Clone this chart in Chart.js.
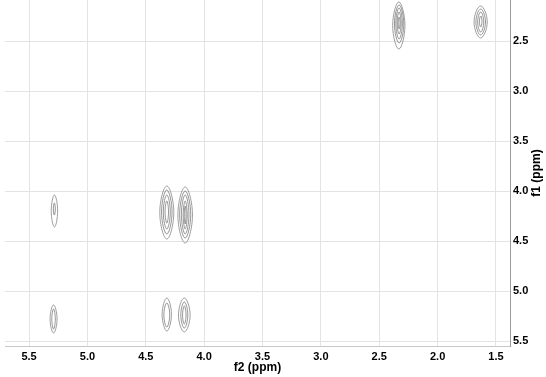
<!DOCTYPE html>
<html>
<head>
<meta charset="utf-8">
<script src="https://cdn.jsdelivr.net/npm/chart.js@4/dist/chart.umd.min.js"></script>
<style>
  html, body { margin: 0; padding: 0; background: #fff; }
  #wrap { width: 546px; height: 377px; position: relative; }
</style>
</head>
<body>
<div id="wrap"><canvas id="nmrChart"></canvas></div>
<script>
"use strict";

// axis ticks (ppm)
const f2Ticks = [5.5, 5.0, 4.5, 4.0, 3.5, 3.0, 2.5, 2.0, 1.5];
const f1Ticks = [2.5, 3.0, 3.5, 4.0, 4.5, 5.0, 5.5];
const f2Range = [1.38, 5.706];
const f1Range = [2.09, 5.55];

// contour rings per cross peak: [f2 left, f2 right, f1 top, f1 bottom]
const peak232 = [
  [2.385, 2.28, 2.11, 2.58],
  [2.37, 2.29, 2.14, 2.52],
  [2.358, 2.302, 2.17, 2.48],
  [2.347, 2.313, 2.21, 2.43],
  [2.338, 2.322, 2.26, 2.38]
];
const peak163 = [
  [1.688, 1.575, 2.15, 2.47],
  [1.672, 1.59, 2.18, 2.44],
  [1.657, 1.605, 2.21, 2.41],
  [1.642, 1.62, 2.25, 2.36]
];
const peak528a = [
  [5.31, 5.255, 4.04, 4.36],
  [5.292, 5.275, 4.12, 4.24]
];
const peak432a = [
  [4.38, 4.26, 3.95, 4.48],
  [4.365, 4.275, 3.99, 4.43],
  [4.35, 4.29, 4.04, 4.38],
  [4.335, 4.305, 4.10, 4.32]
];
const peak416a = [
  [4.225, 4.10, 3.96, 4.52],
  [4.21, 4.115, 4.00, 4.47],
  [4.195, 4.13, 4.04, 4.43],
  [4.18, 4.145, 4.10, 4.38],
  [4.17, 4.155, 4.15, 4.33]
];
const peak529b = [
  [5.32, 5.26, 5.14, 5.42],
  [5.305, 5.275, 5.18, 5.38]
];
const peak432b = [
  [4.36, 4.28, 5.07, 5.40],
  [4.345, 4.295, 5.12, 5.36]
];
const peak417b = [
  [4.22, 4.12, 5.07, 5.41],
  [4.20, 4.14, 5.11, 5.37],
  [4.185, 4.155, 5.15, 5.33]
];

const allPeaks = [peak232, peak163, peak528a, peak432a, peak416a, peak529b, peak432b, peak417b];

function ringPoints(ring) {
  const [xl, xr, yt, yb] = ring;
  const xc = (xl + xr) / 2;
  const ym = (yt + yb) / 2;
  return [
    { x: xc, y: yt },
    { x: xr, y: ym },
    { x: xc, y: yb },
    { x: xl, y: ym }
  ];
}

const datasets = [];
allPeaks.forEach(peak => {
  peak.forEach((ring, i) => {
    datasets.push({
      data: ringPoints(ring),
      showLine: true,
      borderColor: i === 0 ? "rgba(125,125,125,0.75)" : "rgba(105,105,105,0.7)",
      borderWidth: 1,
      pointRadius: 0,
      tension: 0.45,
      spanGaps: true,
      fill: false
    });
  });
});

// close every contour ring smoothly
const closedRings = {
  id: "closedRings",
  afterDatasetUpdate(chart, args) {
    const line = args.meta.dataset;
    if (!line) return;
    line._loop = true;
    line._fullLoop = true;
    line._segments = undefined;
    line._pointsUpdated = false;
    line._path = undefined;
  }
};

const f1TitlePlugin = {
  id: "f1Title",
  afterDraw(chart) {
    const { ctx, chartArea } = chart;
    ctx.save();
    ctx.translate(537, (chartArea.top + chartArea.bottom) / 2);
    ctx.rotate(-Math.PI / 2);
    ctx.font = "bold 12px 'Liberation Sans', Arial, sans-serif";
    ctx.fillStyle = "#000";
    ctx.textAlign = "center";
    ctx.textBaseline = "middle";
    ctx.fillText("f1 (ppm)", 0, 0);
    ctx.restore();
  }
};

const tickFont = { family: "'Liberation Sans', Arial, sans-serif", size: 11, weight: "bold" };

new Chart(document.getElementById("nmrChart"), {
  type: "scatter",
  data: { datasets },
  plugins: [closedRings, f1TitlePlugin],
  options: {
    responsive: true,
    maintainAspectRatio: false,
    animation: false,
    layout: { padding: { left: 5, top: 0, right: 0, bottom: 0 } },
    plugins: {
      legend: { display: false },
      tooltip: { enabled: false }
    },
    scales: {
      x: {
        type: "linear",
        position: "bottom",
        reverse: true,
        min: f2Range[0],
        max: f2Range[1],
        afterBuildTicks: scale => {
          scale.ticks = f2Ticks.map(v => ({ value: v }));
        },
        afterFit: scale => {
          scale.height = 31;
        },
        ticks: {
          color: "#000",
          font: tickFont,
          padding: 4,
          maxRotation: 0,
          autoSkip: false,
          callback: v => Number(v).toFixed(1)
        },
        grid: { color: "#e3e3e3", lineWidth: 1, drawTicks: false },
        border: { display: true, color: "#c8c8c8", width: 1 },
        title: {
          display: true,
          text: "f2 (ppm)",
          color: "#000",
          font: { family: "'Liberation Sans', Arial, sans-serif", size: 12, weight: "bold" },
          padding: { top: 0, bottom: 2 }
        }
      },
      y: {
        type: "linear",
        position: "right",
        reverse: true,
        min: f1Range[0],
        max: f1Range[1],
        afterBuildTicks: scale => {
          scale.ticks = f1Ticks.map(v => ({ value: v }));
        },
        afterFit: scale => {
          scale.width = 36;
          scale.paddingTop = 0;
          scale.paddingBottom = 0;
        },
        ticks: {
          color: "#000",
          font: tickFont,
          padding: 3,
          autoSkip: false,
          callback: v => Number(v).toFixed(1)
        },
        grid: { color: "#e3e3e3", lineWidth: 1, drawTicks: false },
        border: { display: true, color: "#9a9a9a", width: 1 }
      }
    }
  }
});
</script>
</body>
</html>
